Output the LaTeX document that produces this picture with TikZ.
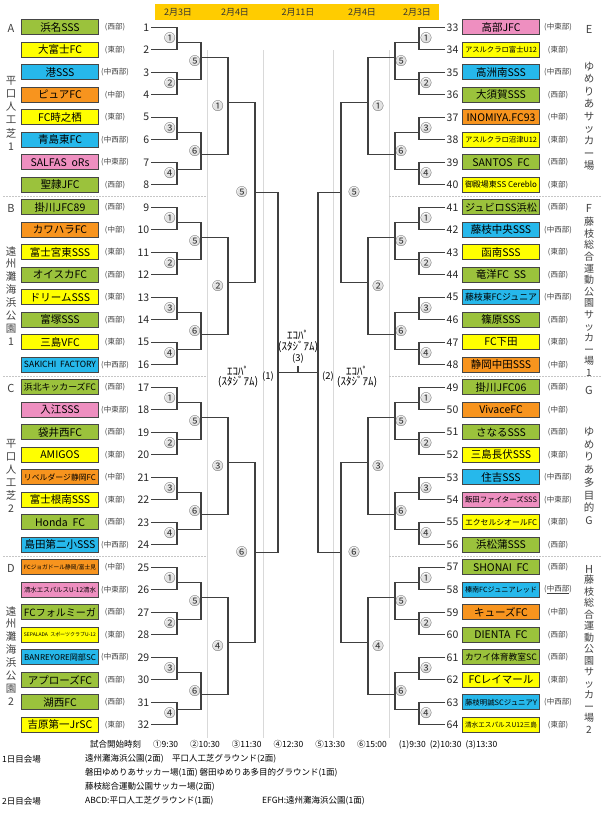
\documentclass[tikz,border=0pt]{standalone}
\usepackage{fontspec}
\setmainfont{Noto Sans CJK JP}
\usepackage{graphicx}
\usetikzlibrary{calc,positioning}
\definecolor{seibu}{RGB}{155,194,60}
\definecolor{tobu}{RGB}{255,255,0}
\definecolor{chuseibu}{RGB}{38,184,235}
\definecolor{chubu}{RGB}{247,148,30}
\definecolor{chutobu}{RGB}{238,143,192}
\definecolor{header}{RGB}{255,204,0}
\definecolor{boxline}{RGB}{70,70,70}
\definecolor{lineclr}{RGB}{64,64,64}
\tikzstyle{teambox} = [rectangle, draw=boxline, line width=1.2pt, minimum width=77pt, minimum height=15pt, inner sep=0pt, font=\fontsize{10.5}{12}\selectfont]
\tikzstyle{area} = [font=\fontsize{7.5}{9}\selectfont, text=black!75, inner sep=0pt]
\tikzstyle{teamno} = [font=\fontsize{10.5}{12}\selectfont, text=black!85, inner sep=1.5pt]
\tikzstyle{bracket} = [line width=1.1pt, draw=lineclr]
\tikzstyle{roundno} = [circle, fill=gray!22, inner sep=-2.1pt, font=\fontsize{11.5}{12}\selectfont, text=black!80]
\tikzstyle{guide} = [line width=0.8pt, draw=gray!30]
\tikzstyle{divider} = [line width=1pt, draw=gray!45, dash pattern=on 2pt off 1pt]
\tikzstyle{letter} = [font=\fontsize{11}{12}\selectfont, text=black!75]
\tikzstyle{vlabel} = [align=center, anchor=north, inner sep=0pt, text=black!75]
\tikzstyle{stadium} = [align=center, font=\fontsize{11}{10.5}\selectfont, inner sep=0pt]
\tikzstyle{gameno} = [font=\fontsize{9.5}{10}\selectfont, inner sep=0pt]
\tikzstyle{datelbl} = [font=\fontsize{9}{10}\selectfont, text=black!80]
\tikzstyle{note} = [font=\fontsize{8.5}{10}\selectfont, anchor=west, inner sep=0pt]
% squeeze long team names into the box
\newsavebox{\namebox}
\newcommand{\fitname}[1]{\sbox{\namebox}{#1}\ifdim\wd\namebox>72pt\resizebox{72pt}{!}{\usebox{\namebox}}\else\usebox{\namebox}\fi}
% one team row: number, colour, name, region
\newcommand{\team}[4]{%
  \pgfmathtruncatemacro{\tside}{(#1>32)}%
  \pgfmathtruncatemacro{\trow}{24*floor(mod(#1-1,32)/8)+3*mod(#1-1,8)}%
  \pgfmathsetmacro{\ty}{27.3+7.5*\trow}%
  \ifnum\tside=0
    \node (t#1) [teambox, fill=#2] at (60,\ty) {\fitname{#3}};
    \node (r#1) [area] at (115,\ty) {(#4)};
    \node (n#1) [teamno, anchor=east] at (151,\ty) {#1};
  \else
    \node (n#1) [teamno, anchor=west] at (445,\ty) {#1};
    \node (t#1) [teambox, fill=#2] at (501,\ty) {\fitname{#3}};
    \node (r#1) [area] at (558,\ty) {(#4)};
  \fi}

\begin{document}
\begin{tikzpicture}[x=1pt,y=-1pt]
\useasboundingbox (0,0) rectangle (604,820);

% background guides
\foreach \gx in {207,263,333,389} \draw [guide] (\gx,50) -- (\gx,738);
\foreach \gy in {196,376,556} {
  \draw [divider] (3,\gy) -- (207,\gy);
  \draw [divider] (389,\gy) -- (601,\gy);
}

% dates
\node (bar) [rectangle, fill=header, minimum width=284pt, minimum height=16pt, inner sep=0pt] at (297,12) {};
\node (date1) [datelbl] at (178,12) {2月3日};
\node (date2) [datelbl] at (235,12) {2月4日};
\node (date3) [datelbl] at (298,12) {2月11日};
\node (date4) [datelbl] at (362,12) {2月4日};
\node (date5) [datelbl] at (417,12) {2月3日};

% venues
\node (grpA) [letter] at (11,28) {A};
\node (venueA) [vlabel, font=\fontsize{10.5}{13.2}\selectfont] at (11,76) {平\\口\\人\\工\\芝\\1};
\node (grpB) [letter] at (11,208) {B};
\node (venueB) [vlabel, font=\fontsize{10.5}{12.9}\selectfont] at (11,246) {遠\\州\\灘\\海\\浜\\公\\園\\1};
\node (grpC) [letter] at (11,388) {C};
\node (venueC) [vlabel, font=\fontsize{10.5}{13}\selectfont] at (11,439) {平\\口\\人\\工\\芝\\2};
\node (grpD) [letter] at (11,568) {D};
\node (venueD) [vlabel, font=\fontsize{10.5}{12.9}\selectfont] at (11,606) {遠\\州\\灘\\海\\浜\\公\\園\\2};
\node (grpE) [letter] at (589,29) {E};
\node (venueE) [vlabel, font=\fontsize{10.5}{12.4}\selectfont] at (589,62) {ゆ\\め\\り\\あ\\サ\\ッ\\カ\\ー\\場};
\node (grpF) [letter] at (589,208) {F};
\node (venueF) [vlabel, font=\fontsize{10}{11.6}\selectfont] at (589,217) {藤\\枝\\総\\合\\運\\動\\公\\園\\サ\\ッ\\カ\\ー\\場\\1};
\node (grpG) [letter] at (589,390) {G};
\node (venueG) [vlabel, font=\fontsize{10.5}{12.7}\selectfont] at (589,427) {ゆ\\め\\り\\あ\\多\\目\\的\\G};
\node (grpH) [letter] at (589,569) {H};
\node (venueH) [vlabel, font=\fontsize{10}{11.5}\selectfont] at (589,575) {藤\\枝\\総\\合\\運\\動\\公\\園\\サ\\ッ\\カ\\ー\\場\\2};

% teams
\team{1}{seibu}{浜名SSS}{西部}
\team{2}{tobu}{大富士FC}{東部}
\team{3}{chuseibu}{港SSS}{中西部}
\team{4}{chubu}{ピュアFC}{中部}
\team{5}{tobu}{FC時之栖}{東部}
\team{6}{chuseibu}{青島東FC}{中西部}
\team{7}{chutobu}{SALFAS\ \ oRs}{中東部}
\team{8}{seibu}{聖隷JFC}{西部}
\team{9}{seibu}{掛川JFC89}{西部}
\team{10}{chubu}{カワハラFC}{中部}
\team{11}{tobu}{富士宮東SSS}{東部}
\team{12}{seibu}{オイスカFC}{西部}
\team{13}{tobu}{ドリームSSS}{東部}
\team{14}{seibu}{富塚SSS}{西部}
\team{15}{tobu}{三島VFC}{東部}
\team{16}{chuseibu}{SAKICHI\ \ FACTORY}{中西部}
\team{17}{seibu}{浜北キッカーズFC}{西部}
\team{18}{chutobu}{入江SSS}{中東部}
\team{19}{seibu}{袋井西FC}{西部}
\team{20}{tobu}{AMIGOS}{東部}
\team{21}{chubu}{リベルダージ静岡FC}{中部}
\team{22}{tobu}{富士根南SSS}{東部}
\team{23}{seibu}{Honda\ \ FC}{西部}
\team{24}{chuseibu}{島田第二小SSS}{中西部}
\team{25}{chubu}{FCジョガドール静岡/富士見}{中部}
\team{26}{chutobu}{清水エスパルスU-12清水}{中東部}
\team{27}{seibu}{FCフォルミーガ}{西部}
\team{28}{tobu}{SEPALADA\ \ スポーツクラブU-12}{東部}
\team{29}{chuseibu}{BANREYORE岡部SC}{中西部}
\team{30}{seibu}{アプローズFC}{西部}
\team{31}{seibu}{湖西FC}{西部}
\team{32}{tobu}{吉原第一JrSC}{東部}
\team{33}{chutobu}{高部JFC}{中東部}
\team{34}{tobu}{アスルクラロ富士U12}{東部}
\team{35}{chuseibu}{高洲南SSS}{中西部}
\team{36}{seibu}{大須賀SSS}{西部}
\team{37}{chubu}{INOMIYA.FC93}{中部}
\team{38}{tobu}{アスルクラロ沼津U12}{東部}
\team{39}{seibu}{SANTOS\ \ FC}{西部}
\team{40}{tobu}{御殿場東SS Cereblo}{東部}
\team{41}{seibu}{ジュビロSS浜松}{西部}
\team{42}{chuseibu}{藤枝中央SSS}{中西部}
\team{43}{tobu}{函南SSS}{東部}
\team{44}{seibu}{竜洋FC\ \ SS}{西部}
\team{45}{chuseibu}{藤枝東FCジュニア}{中西部}
\team{46}{seibu}{篠原SSS}{西部}
\team{47}{tobu}{FC下田}{東部}
\team{48}{chubu}{静岡中田SSS}{中部}
\team{49}{seibu}{掛川JFC06}{西部}
\team{50}{chubu}{VivaceFC}{中部}
\team{51}{seibu}{さなるSSS}{西部}
\team{52}{tobu}{三島長伏SSS}{東部}
\team{53}{chuseibu}{住吉SSS}{中西部}
\team{54}{chutobu}{飯田ファイターズSSS}{中東部}
\team{55}{tobu}{エクセルシオールFC}{東部}
\team{56}{seibu}{浜松蒲SSS}{西部}
\team{57}{seibu}{SHONAI\ \ FC}{西部}
\team{58}{chuseibu}{榛南FCジュニアレッド}{\underline{中西部}}
\team{59}{chubu}{キューズFC}{中部}
\team{60}{seibu}{DIENTA\ \ FC}{西部}
\team{61}{seibu}{カワイ体育教室SC}{西部}
\team{62}{tobu}{FCレイマール}{東部}
\team{63}{chuseibu}{藤枝明誠SCジュニアY}{中西部}
\team{64}{tobu}{清水エスパルスU12三島}{東部}

% bracket, both halves
\foreach \side/\dir/\anc in {0/-1/east,1/1/west} {
  \pgfmathsetmacro{\xa}{298+\dir*121}
  \pgfmathsetmacro{\xb}{298+\dir*97}
  \pgfmathsetmacro{\xc}{298+\dir*70}
  \pgfmathsetmacro{\xd}{298+\dir*43}
  % first round
  \foreach \grp in {0,...,3} {
    \foreach \mm/\orow/\lbl in {1/2/①,2/7/②,3/14/③,4/19/④} {
      \pgfmathtruncatemacro{\mi}{16*\side+4*\grp+\mm}
      \pgfmathtruncatemacro{\ta}{32*\side+8*\grp+2*\mm-1}
      \pgfmathtruncatemacro{\tb}{\ta+1}
      \pgfmathsetmacro{\yo}{27.3+7.5*(24*\grp+\orow)}
      \pgfmathsetmacro{\yl}{27.3+7.5*(24*\grp+6*\mm-4.5)}
      \coordinate (a\mi) at (\xa,\yo);
      \draw [bracket] (n\ta.\anc) -| (a\mi) |- (n\tb.\anc);
      \node [roundno, anchor=\anc, xshift=\dir*2pt] at (\xa,\yl) {\lbl};
    }
  }
  % second round
  \foreach \grp in {0,...,3} {
    \foreach \mm/\orow/\lbl in {1/4/⑤,2/17/⑥} {
      \pgfmathtruncatemacro{\mi}{8*\side+2*\grp+\mm}
      \pgfmathtruncatemacro{\ma}{16*\side+4*\grp+2*\mm-1}
      \pgfmathtruncatemacro{\mb}{\ma+1}
      \pgfmathsetmacro{\yo}{27.3+7.5*(24*\grp+\orow)}
      \pgfmathsetmacro{\yl}{27.3+7.5*(24*\grp+12*\mm-7.5)}
      \coordinate (b\mi) at (\xb,\yo);
      \draw [bracket] (a\ma) -| (b\mi) |- (a\mb);
      \node [roundno, anchor=\anc, xshift=\dir*1pt] at (\xb,\yl) {\lbl};
    }
  }
  % third round
  \foreach \grp/\lbl in {0/①,1/②,2/③,3/④} {
    \pgfmathtruncatemacro{\mi}{4*\side+\grp+1}
    \pgfmathtruncatemacro{\ma}{8*\side+2*\grp+1}
    \pgfmathtruncatemacro{\mb}{\ma+1}
    \pgfmathsetmacro{\yo}{27.3+7.5*(24*\grp+10)}
    \pgfmathsetmacro{\yl}{27.3+7.5*(24*\grp+10.5)}
    \coordinate (c\mi) at (\xc,\yo);
    \draw [bracket] (b\ma) -| (c\mi) |- (b\mb);
    \node [roundno, anchor=\anc, xshift=\dir*5pt] at (\xc,\yl) {\lbl};
  }
  % fourth round
  \foreach \hh/\lbl in {0/⑤,1/⑥} {
    \pgfmathtruncatemacro{\mi}{2*\side+\hh+1}
    \pgfmathtruncatemacro{\ma}{4*\side+2*\hh+1}
    \pgfmathtruncatemacro{\mb}{\ma+1}
    \pgfmathsetmacro{\yo}{27.3+7.5*(48*\hh+22)}
    \coordinate (d\mi) at (\xd,\yo);
    \draw [bracket] (c\ma) -| (d\mi) |- (c\mb);
    \node [roundno, anchor=\anc, xshift=\dir*8pt] at (\xd,\yo) {\lbl};
  }
}

% semi-finals and final
\coordinate (fl) at (278,372.3);
\coordinate (fr) at (318,372.3);
\coordinate (third) at (298,366);
\draw [bracket] (d1) -| (fl) |- (d2);
\draw [bracket] (d3) -| (fr) |- (d4);
\draw [bracket] (fl) -- (fr);
\draw [bracket] (third) -- (third |- fl);
\node (ecopa1) [stadium] at (238,377) {ｴｺﾊﾟ\\(ｽﾀｼﾞｱﾑ)};
\node (game1) [gameno, left=4pt of fl, yshift=-4pt] {(1)};
\node (game2) [gameno, right=4pt of fr, yshift=-4pt] {(2)};
\node (ecopa2) [stadium] at (357,377) {ｴｺﾊﾟ\\(ｽﾀｼﾞｱﾑ)};
\node (ecopa3) [stadium, above=2pt of third] {ｴｺﾊﾟ\\(ｽﾀｼﾞｱﾑ)\\[1pt]{\fontsize{9.5}{10}\selectfont(3)}};

% notes
\node (timing) [note] at (90,745) {試合開始時刻\hspace{12pt}①9:30\hspace{12pt}②10:30\hspace{12pt}③11:30\hspace{12pt}④12:30\hspace{12pt}⑤13:30\hspace{12pt}⑥15:00\hspace{12pt}(1)9:30\hspace{4pt}(2)10:30\hspace{4pt}(3)13:30};
\node (day1) [note] at (2,759) {1日目会場};
\node (day1a) [note] at (85,759) {遠州灘海浜公園(2面)　平口人工芝グラウンド(2面)};
\node (day1b) [note] at (85,773) {磐田ゆめりあサッカー場(1面)\ 磐田ゆめりあ多目的グラウンド(1面)};
\node (day1c) [note] at (85,787) {藤枝総合運動公園サッカー場(2面)};
\node (day2) [note] at (2,801) {2日目会場};
\node (day2a) [note] at (85,801) {ABCD:平口人工芝グラウンド(1面)};
\node (day2b) [note] at (262,801) {EFGH:遠州灘海浜公園(1面)};
\end{tikzpicture}
\end{document}
